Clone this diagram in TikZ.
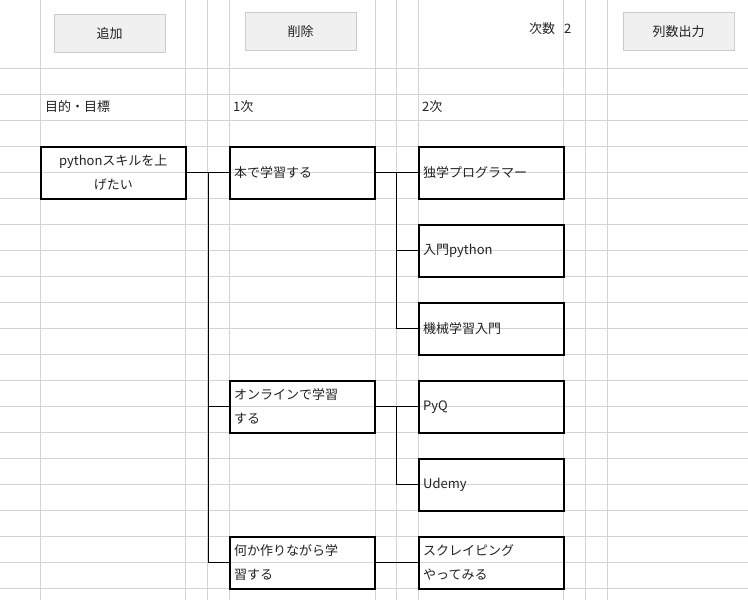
\documentclass[tikz,border=0pt]{standalone}
\usepackage{fontspec}
\setmainfont{Noto Sans CJK JP}
\usetikzlibrary{calc}
\definecolor{GridClr}{HTML}{d4d4d4}
\definecolor{BtnClr}{HTML}{f0f0f0}
\definecolor{TxtClr}{HTML}{222222}

\begin{document}
\begin{tikzpicture}[x=1pt,y=-1pt,font=\fontsize{13}{24}\selectfont,text=TxtClr,
  cell/.style={draw=black,line width=1.6pt,minimum width=145pt,minimum height=52pt,
    anchor=north west,inner sep=0pt},
  lbl/.style={anchor=west,inner sep=0pt},
  btn/.style={fill=BtnClr,draw=BtnClr!85!black,minimum width=111pt,minimum height=38pt,
    anchor=north west,inner sep=0pt},
  link/.style={line width=0.8pt,black}]
\useasboundingbox (0,0) rectangle (748,600);
\fill[white] (0,0) rectangle (748,600);

% grid
\foreach \x in {40,185,207,229,375,396,418,563,585,607}
  \draw[GridClr] (\x,0) -- (\x,600);
\foreach \y in {68,94,...,588}
  \draw[GridClr] (0,\y) -- (748,\y);

% buttons
\fill[gray!75] (55,15) rectangle (166,53);
\node[btn] (add) at (54,14) {追加};
\fill[gray!75] (246,13) rectangle (356,51);
\node[btn] (del) at (245,12) {削除};
\fill[gray!75] (624,13) rectangle (735,51);
\node[btn] (out) at (623,12) {列数出力};
\node[lbl] (cnt) at (529,29) {次数\hspace{9pt}2};

% headers
\node[lbl] (h0) at (45,107) {目的・目標};
\node[lbl] (h1) at (233,107) {1次};
\node[lbl] (h2) at (422,107) {2次};

% goal
\node[cell,align=center] (g) at (40,146) {pythonスキルを上\\げたい};

% level 1
\node[cell] (a1) at (229,146) {};
\node[lbl] at ($(a1.west)+(5,0)$) {本で学習する};
\node[cell] (a2) at (229,380) {};
\node[lbl,align=left] at ($(a2.west)+(5,0)$) {オンラインで学習\\する};
\node[cell] (a3) at (229,536) {};
\node[lbl,align=left] at ($(a3.west)+(5,0)$) {何か作りながら学\\習する};

% level 2
\node[cell] (b1) at (418,146) {};
\node[lbl] at ($(b1.west)+(5,0)$) {独学プログラマー};
\node[cell] (b2) at (418,224) {};
\node[lbl] at ($(b2.west)+(5,0)$) {入門python};
\node[cell] (b3) at (418,302) {};
\node[lbl] at ($(b3.west)+(5,0)$) {機械学習入門};
\node[cell] (b4) at (418,380) {};
\node[lbl] at ($(b4.west)+(5,0)$) {PyQ};
\node[cell] (b5) at (418,458) {};
\node[lbl] at ($(b5.west)+(5,0)$) {Udemy};
\node[cell] (b6) at (418,536) {};
\node[lbl,align=left] at ($(b6.west)+(5,0)$) {スクレイピング\\やってみる};

% connectors
\foreach \t in {a1,a2,a3}
  \draw[link] (g.east) -- ++(22,0) |- (\t.west);
\foreach \t in {b1,b2,b3}
  \draw[link] (a1.east) -- ++(21,0) |- (\t.west);
\foreach \t in {b4,b5}
  \draw[link] (a2.east) -- ++(21,0) |- (\t.west);
\draw[link] (a3.east) -- (b6.west);
\end{tikzpicture}
\end{document}
